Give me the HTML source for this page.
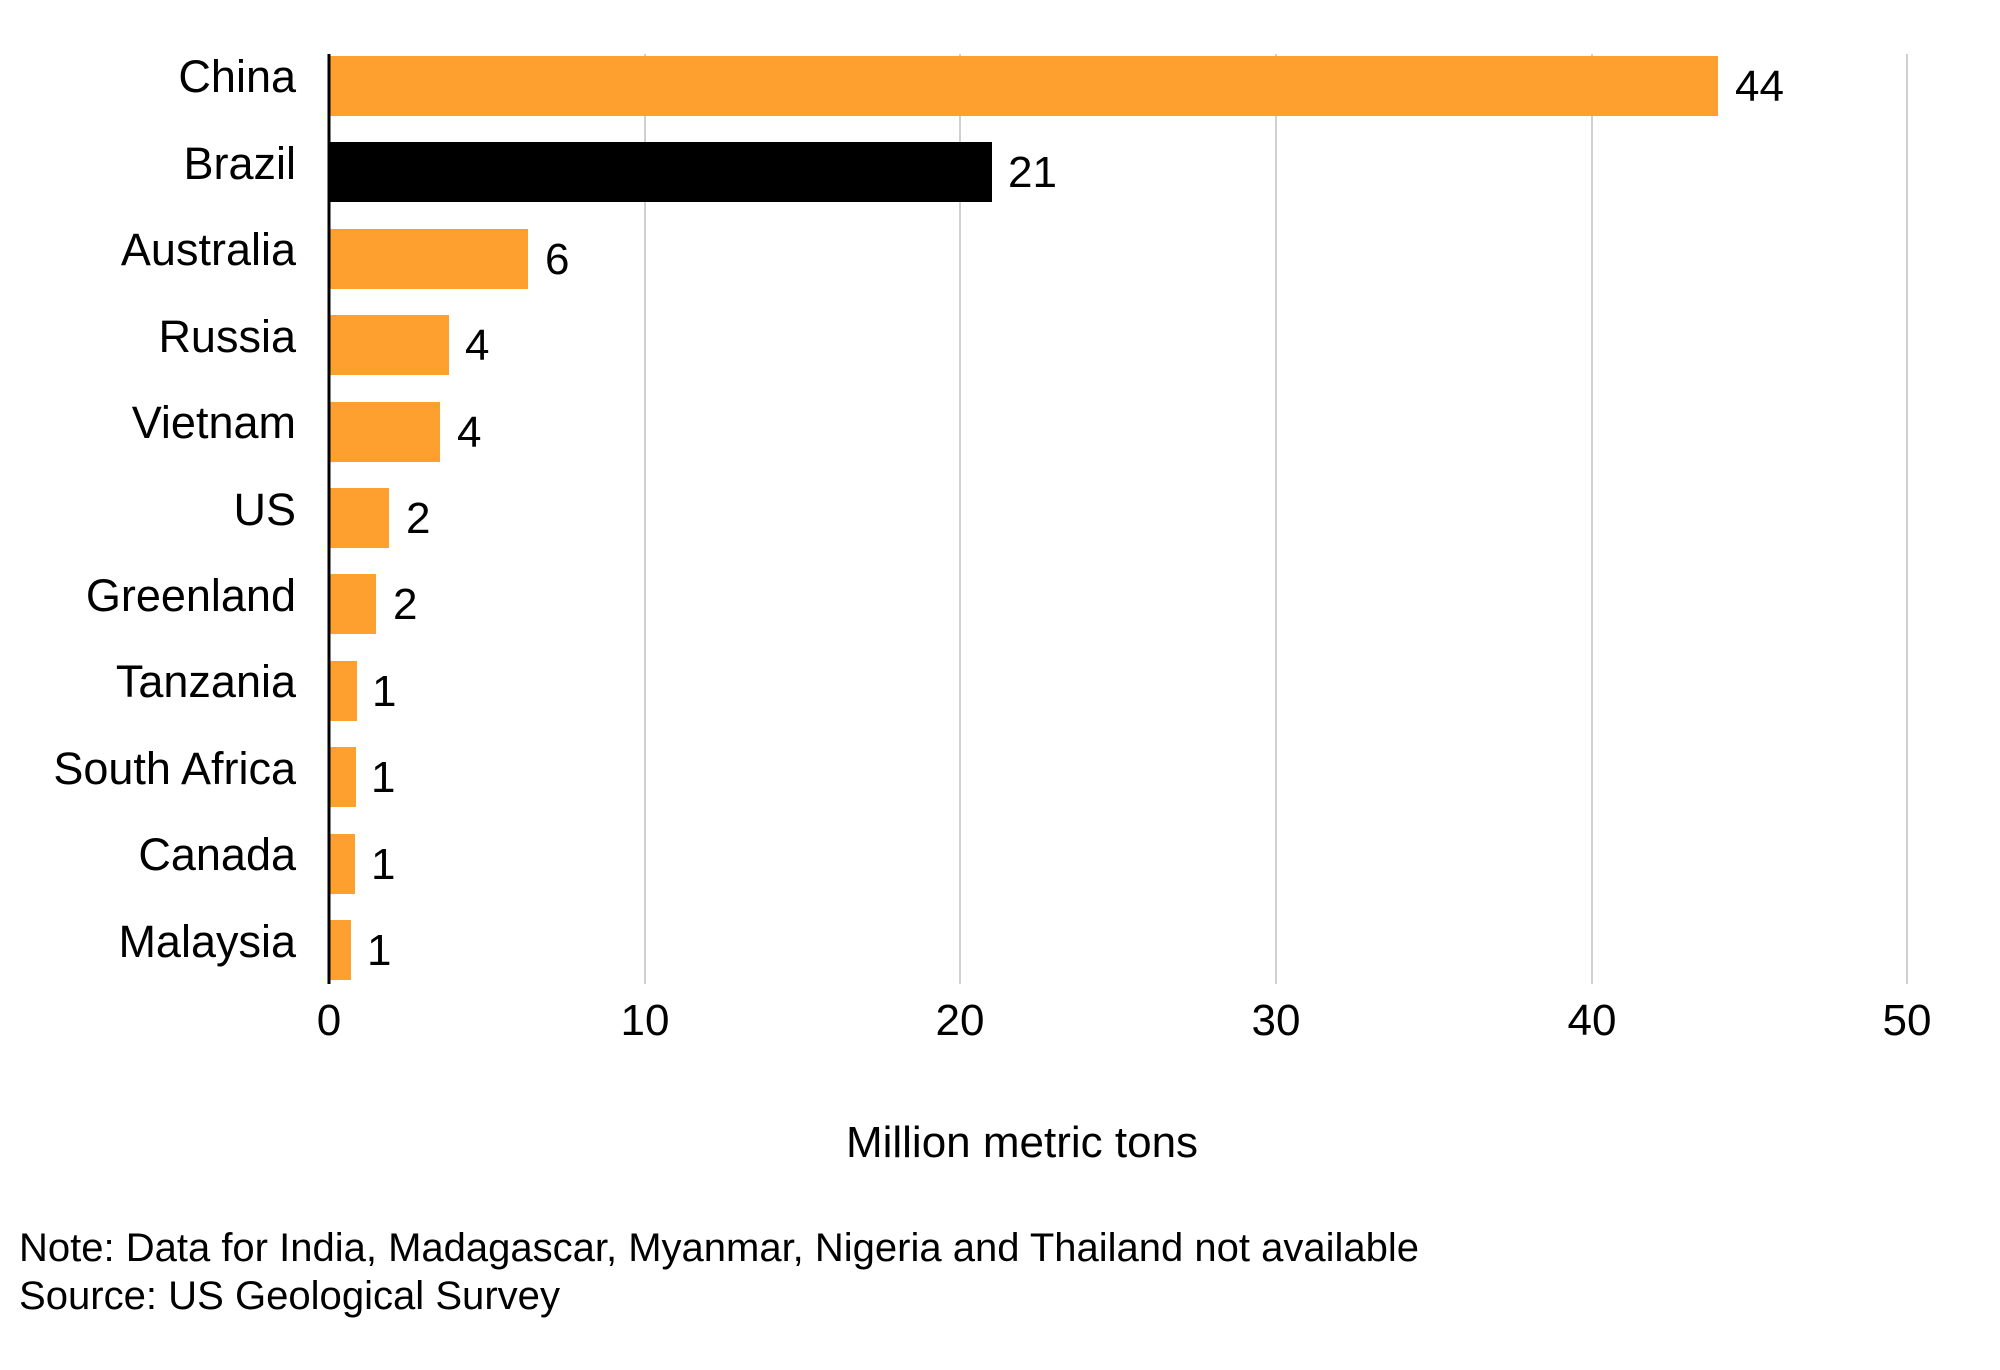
<!DOCTYPE html>
<html><head><meta charset="utf-8"><style>
html,body{margin:0;padding:0;background:#fff;}
svg{display:block;}
text{font-family:"Liberation Sans",sans-serif;fill:#000;}
</style></head><body>
<svg width="2000" height="1370" viewBox="0 0 2000 1370" xmlns="http://www.w3.org/2000/svg">
<g stroke="#d0d0d0" stroke-width="2">
<line x1="645" y1="54" x2="645" y2="984"/>
<line x1="960" y1="54" x2="960" y2="984"/>
<line x1="1276" y1="54" x2="1276" y2="984"/>
<line x1="1592" y1="54" x2="1592" y2="984"/>
<line x1="1907" y1="54" x2="1907" y2="984"/>
</g>
<g fill="#fea02f">
<rect x="329" y="56" width="1389" height="60"/>
<rect x="329" y="229" width="199" height="60"/>
<rect x="329" y="315" width="120" height="60"/>
<rect x="329" y="402" width="111" height="60"/>
<rect x="329" y="488" width="60" height="60"/>
<rect x="329" y="574" width="47" height="60"/>
<rect x="329" y="661" width="28" height="60"/>
<rect x="329" y="747" width="27" height="60"/>
<rect x="329" y="834" width="26" height="60"/>
<rect x="329" y="920" width="22" height="60"/>
</g>
<rect x="329" y="142" width="663" height="60" fill="#000"/>
<line x1="329" y1="54" x2="329" y2="984" stroke="#000" stroke-width="3"/>
<g font-size="45" text-anchor="end">
<text x="296" y="92">China</text>
<text x="296" y="179">Brazil</text>
<text x="296" y="265">Australia</text>
<text x="296" y="352">Russia</text>
<text x="296" y="438">Vietnam</text>
<text x="296" y="525">US</text>
<text x="296" y="611">Greenland</text>
<text x="296" y="697">Tanzania</text>
<text x="296" y="784">South Africa</text>
<text x="296" y="870">Canada</text>
<text x="296" y="957">Malaysia</text>
</g>
<g font-size="44">
<text x="1735" y="101">44</text>
<text x="1008" y="187">21</text>
<text x="545" y="274">6</text>
<text x="465" y="360">4</text>
<text x="457" y="447">4</text>
<text x="406" y="533">2</text>
<text x="393" y="619">2</text>
<text x="372" y="706">1</text>
<text x="371" y="792">1</text>
<text x="371" y="879">1</text>
<text x="367" y="965">1</text>
</g>
<g font-size="44" text-anchor="middle">
<text x="329" y="1035">0</text>
<text x="645" y="1035">10</text>
<text x="960" y="1035">20</text>
<text x="1276" y="1035">30</text>
<text x="1592" y="1035">40</text>
<text x="1907" y="1035">50</text>
<text x="1022" y="1157">Million metric tons</text>
</g>
<text x="19" y="1261" font-size="40" textLength="1400" lengthAdjust="spacingAndGlyphs">Note: Data for India, Madagascar, Myanmar, Nigeria and Thailand not available</text>
<text x="19" y="1309" font-size="40" textLength="541" lengthAdjust="spacingAndGlyphs">Source: US Geological Survey</text>
</svg>
</body></html>
